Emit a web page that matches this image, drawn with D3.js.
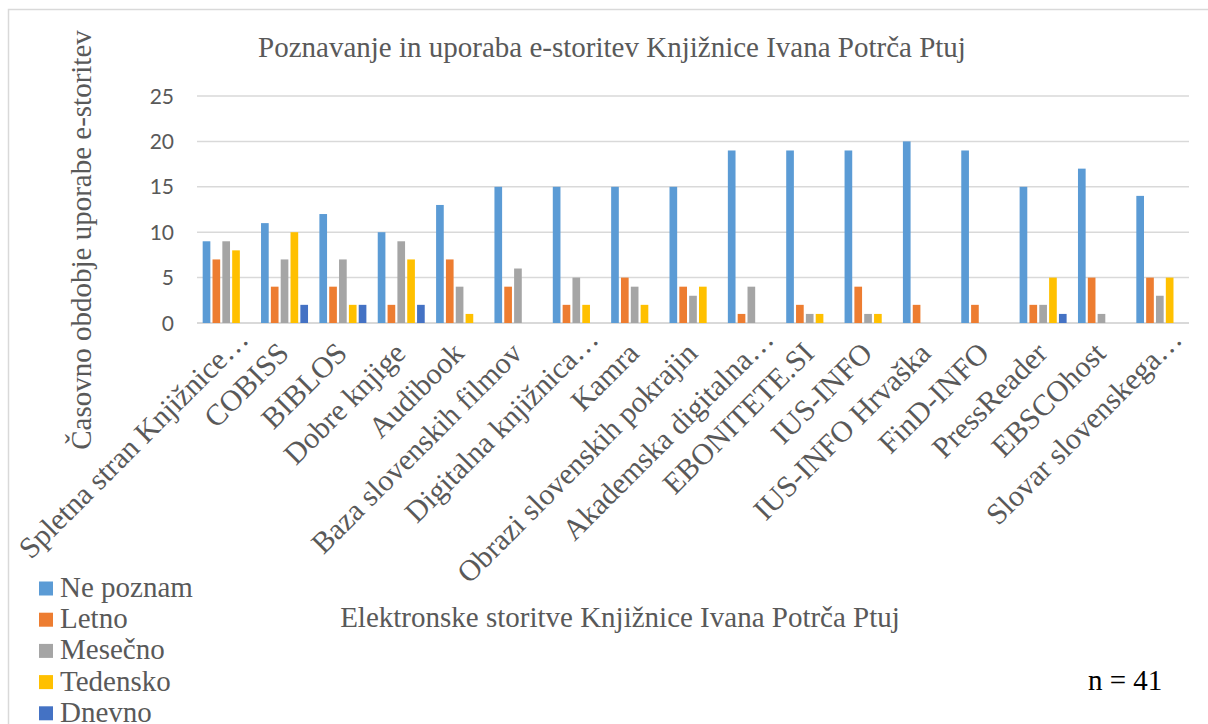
<!DOCTYPE html>
<html>
<head>
<meta charset="utf-8">
<script src="https://cdn.jsdelivr.net/npm/d3@7"></script>
<style>
body { margin: 0; background: #fff; overflow: hidden; }
</style>
</head>
<body>
<div id="chart"></div>
<script>
var categories = ["Spletna stran Knjižnice…", "COBISS", "BIBLOS", "Dobre knjige", "Audibook",
  "Baza slovenskih filmov", "Digitalna knjižnica…", "Kamra", "Obrazi slovenskih pokrajin",
  "Akademska digitalna…", "EBONITETE.SI", "IUS-INFO", "IUS-INFO Hrvaška", "FinD-INFO",
  "PressReader", "EBSCOhost", "Slovar slovenskega…"];
var seriesNames = ["Ne poznam", "Letno", "Mesečno", "Tedensko", "Dnevno"];
var nePoznam = [9, 11, 12, 10, 13, 15, 15, 15, 15, 19, 19, 19, 20, 19, 15, 17, 14];
var letno    = [7, 4, 4, 2, 7, 4, 2, 5, 4, 1, 2, 4, 2, 2, 2, 5, 5];
var mesecno  = [9, 7, 7, 9, 4, 6, 5, 4, 3, 4, 1, 1, 0, 0, 2, 1, 3];
var tedensko = [8, 10, 2, 7, 1, 0, 2, 2, 4, 0, 1, 1, 0, 0, 5, 0, 5];
var dnevno   = [0, 2, 2, 2, 0, 0, 0, 0, 0, 0, 0, 0, 0, 0, 1, 0, 0];
var yTicks = [0, 5, 10, 15, 20, 25];
var colors = ["#5B9BD5", "#ED7D31", "#A5A5A5", "#FFC000", "#4472C4"];

var seriesValues = [nePoznam, letno, mesecno, tedensko, dnevno];

var w = 1208, h = 724;
var svg = d3.select("#chart").append("svg")
  .attr("width", w)
  .attr("height", h);

var serif = "'Times New Roman', 'Liberation Serif', serif";
var textColor = "#595959";

// chart frame (only top and left edges are in view)
svg.append("path")
  .attr("d", "M8.5," + h + "V9.5H" + w)
  .attr("fill", "none")
  .attr("stroke", "#D9D9D9")
  .attr("stroke-width", 1.5);

var plotLeft = 197, plotRight = 1189, plotTop = 96, plotBottom = 323;

var x0 = d3.scaleBand().domain(categories).range([plotLeft, plotRight]).padding(0);
var x1 = d3.scaleBand().domain(seriesNames)
  .range([(x0.bandwidth() - 47) / 2, (x0.bandwidth() + 47) / 2])
  .paddingInner(0.22).paddingOuter(0);
var y = d3.scaleLinear().domain([0, 25]).range([plotBottom, plotTop]);

// gridlines
svg.append("g").selectAll("line")
  .data(yTicks)
  .enter().append("line")
  .attr("x1", plotLeft).attr("x2", plotRight)
  .attr("y1", function(d) { return y(d); })
  .attr("y2", function(d) { return y(d); })
  .attr("stroke", "#D9D9D9")
  .attr("stroke-width", function(d) { return d === 0 ? 2 : 1.5; });

// y tick labels
svg.append("g").selectAll("text")
  .data(yTicks)
  .enter().append("text")
  .attr("x", 174)
  .attr("y", function(d) { return y(d) + 7.5; })
  .attr("text-anchor", "end")
  .attr("font-family", "Lato, 'Open Sans', sans-serif")
  .attr("font-size", "21px")
  .attr("fill", textColor)
  .text(function(d) { return d; });

// bars
var groups = svg.append("g").selectAll("g")
  .data(categories)
  .enter().append("g")
  .attr("transform", function(d) { return "translate(" + x0(d) + ",0)"; });

groups.selectAll("rect")
  .data(function(d, i) {
    return seriesNames.map(function(s, j) { return { s: s, v: seriesValues[j][i], c: colors[j] }; });
  })
  .enter().append("rect")
  .attr("x", function(d) { return x1(d.s); })
  .attr("y", function(d) { return y(d.v); })
  .attr("width", x1.bandwidth())
  .attr("height", function(d) { return y(0) - y(d.v); })
  .attr("fill", function(d) { return d.c; });

// category labels, rotated, ending near the tick
// (truncated labels with an ellipsis sit a little further along)
svg.append("g").selectAll("text")
  .data(categories)
  .enter().append("text")
  .attr("transform", function(d) {
    var cx = x0(d) + x0.bandwidth() / 2;
    var cut = d.slice(-1) === "…";
    return "translate(" + (cx + (cut ? 24 : 6)) + "," + (cut ? 341 : 355) + ") rotate(-45)";
  })
  .attr("text-anchor", "end")
  .attr("font-family", serif)
  .attr("font-size", "30px")
  .attr("fill", textColor)
  .text(function(d) { return d; });

// title
svg.append("text")
  .attr("x", 612).attr("y", 57)
  .attr("text-anchor", "middle")
  .attr("font-family", serif)
  .attr("font-size", "29px")
  .attr("fill", textColor)
  .text("Poznavanje in uporaba e-storitev Knjižnice Ivana Potrča Ptuj");

// y axis title
svg.append("text")
  .attr("transform", "translate(91,240) rotate(-90)")
  .attr("text-anchor", "middle")
  .attr("font-family", serif)
  .attr("font-size", "29px")
  .attr("fill", textColor)
  .text("Časovno obdobje uporabe e-storitev");

// x axis title
svg.append("text")
  .attr("x", 620).attr("y", 627)
  .attr("text-anchor", "middle")
  .attr("font-family", serif)
  .attr("font-size", "29px")
  .attr("fill", textColor)
  .text("Elektronske storitve Knjižnice Ivana Potrča Ptuj");

// legend
var legend = svg.append("g").selectAll("g")
  .data(seriesNames)
  .enter().append("g")
  .attr("transform", function(d, i) { return "translate(39," + (597 + i * 31.2) + ")"; });

legend.append("rect")
  .attr("x", 0).attr("y", -15.5)
  .attr("width", 14).attr("height", 14)
  .attr("fill", function(d, i) { return colors[i]; });

legend.append("text")
  .attr("x", 21).attr("y", 0)
  .attr("font-family", serif)
  .attr("font-size", "29px")
  .attr("fill", textColor)
  .text(function(d) { return d; });

// sample size
svg.append("text")
  .attr("x", 1088).attr("y", 690)
  .attr("font-family", serif)
  .attr("font-size", "29px")
  .attr("fill", "#000")
  .text("n = 41");
</script>
</body>
</html>
